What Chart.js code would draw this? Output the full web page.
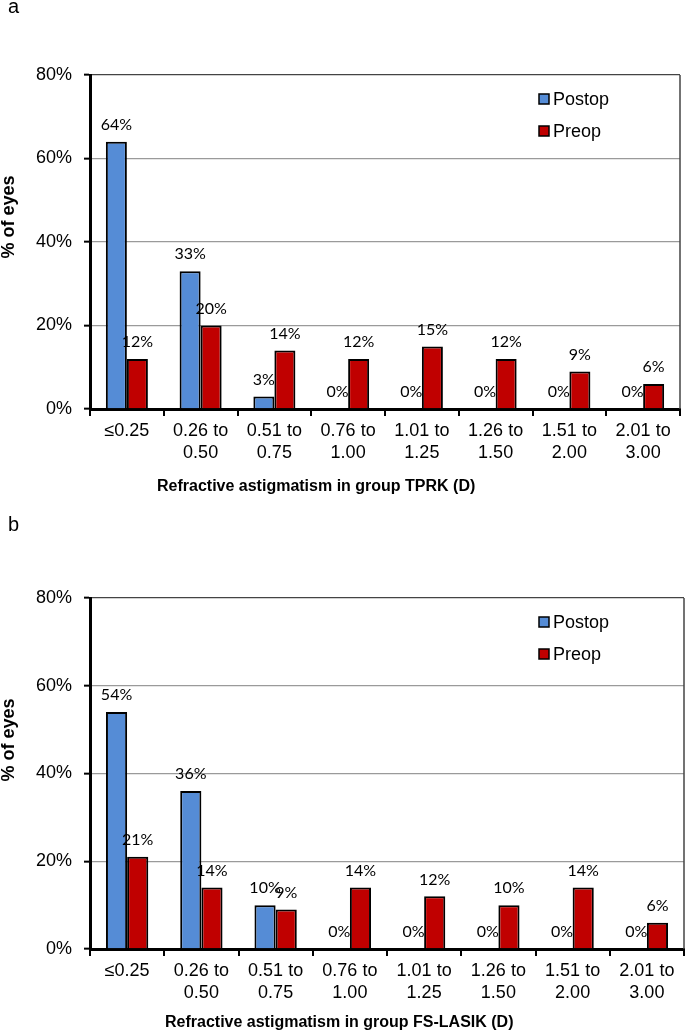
<!DOCTYPE html>
<html>
<head>
<meta charset="utf-8">
<script src="https://cdn.jsdelivr.net/npm/chart.js@4"></script>
<style>
  html,body{margin:0;padding:0;background:#fff;overflow:hidden;width:685px;height:1033px;}
  canvas{position:absolute;left:0;}
  #chartA{top:0;}
  #chartB{top:515px;}
</style>
</head>
<body>
<canvas id="chartA" width="685" height="515"></canvas>
<canvas id="chartB" width="685" height="518"></canvas>
<script>
// data
const categories = [['≤0.25'], ['0.26 to','0.50'], ['0.51 to','0.75'], ['0.76 to','1.00'],
  ['1.01 to','1.25'], ['1.26 to','1.50'], ['1.51 to','2.00'], ['2.01 to','3.00']];
const seriesNames = ['Postop', 'Preop'];
const tprkPostop = [64, 33, 3, 0, 0, 0, 0, 0];
const tprkPreop  = [12, 20, 14, 12, 15, 12, 9, 6];
const lasikPostop = [54, 36, 10, 0, 0, 0, 0, 0];
const lasikPreop  = [21, 14, 9, 14, 12, 10, 14, 6];
const yTicks = [0, 20, 40, 60, 80];

const BLUE = '#558cd6', RED = '#c00000';
Chart.defaults.font.family = '"Liberation Sans", Arial, sans-serif';
Chart.defaults.color = '#000';

// labels, legend, titles, right border
const extras = {
  id: 'extras',
  afterDatasetsDraw(chart, args, o){
    const c = chart.ctx, a = chart.chartArea;
    c.save();
    // right plot border
    c.strokeStyle = '#444'; c.lineWidth = 1.5;
    c.beginPath(); c.moveTo(a.right, a.top); c.lineTo(a.right, a.bottom); c.stroke();
    // value labels
    c.font = '16px Lato, "Open Sans", sans-serif';
    c.fillStyle = '#000'; c.textAlign = 'center'; c.textBaseline = 'middle';
    chart.data.datasets.forEach((ds, i) => {
      chart.getDatasetMeta(i).data.forEach((bar, j) => {
        c.fillText(ds.data[j] + '%', bar.x, bar.y - 17);
      });
    });
    // legend
    c.font = '18px "Liberation Sans", Arial, sans-serif';
    c.textAlign = 'left';
    chart.data.datasets.forEach((ds, i) => {
      const y = a.top + 24 + i * 32;
      c.fillStyle = ds.backgroundColor;
      c.fillRect(539, y - 5, 10, 10);
      c.strokeStyle = '#000'; c.lineWidth = 1.5;
      c.strokeRect(539, y - 5, 10, 10);
      c.fillStyle = '#000';
      c.fillText(ds.label, 553, y + 1);
    });
    // panel letter
    c.font = '20px "Liberation Sans", Arial, sans-serif';
    c.textBaseline = 'middle';
    c.fillText(o.panel, 8, o.panelY);
    // x title
    c.font = 'bold 16px "Liberation Sans", Arial, sans-serif';
    c.fillText(o.xTitle, o.xTitleX, o.xTitleY);
    // y title
    c.translate(9, a.top + 142);
    c.rotate(-Math.PI / 2);
    c.textAlign = 'center';
    c.font = 'bold 18px "Liberation Sans", Arial, sans-serif';
    c.fillText('% of eyes', 0, 0);
    c.restore();
  }
};

function makeChart(id, postop, preop, pad, xHeight, o){
  return new Chart(document.getElementById(id), {
    type: 'bar',
    data: {
      labels: categories,
      datasets: [
        {label: seriesNames[0], data: postop, backgroundColor: BLUE, borderColor: '#000', borderWidth: 2},
        {label: seriesNames[1], data: preop, backgroundColor: RED, borderColor: '#000', borderWidth: 2}
      ]
    },
    options: {
      responsive: false, animation: false, devicePixelRatio: 1,
      categoryPercentage: 0.57, barPercentage: 1.0,
      layout: {padding: pad},
      plugins: {legend: {display: false}, tooltip: {enabled: false}, extras: o},
      scales: {
        x: {
          afterFit: s => { s.height = xHeight; },
          grid: {drawOnChartArea: false, offset: true, tickLength: 7, color: '#000', lineWidth: 2},
          border: {color: '#000', width: 3},
          ticks: {font: {size: 18, lineHeight: 1.17}, padding: 5, maxRotation: 0, autoSkip: false}
        },
        y: {
          min: 0, max: 80,
          afterFit: s => { s.width = 90; },
          afterBuildTicks: s => { s.ticks = yTicks.map(v => ({value: v})); },
          grid: {color: c => c.tick && c.tick.value === 80 ? '#444' : '#9a9a9a', lineWidth: 1.3,
                 tickLength: 6, tickColor: '#000', tickWidth: 2},
          border: {color: '#000', width: 3},
          ticks: {font: {size: 18}, padding: 12, callback: v => v + '%'}
        }
      }
    },
    plugins: [extras]
  });
}

makeChart('chartA', tprkPostop, tprkPreop, {top: 75, right: 5, left: 0, bottom: 0}, 515 - 409,
  {panel: 'a', panelY: 7, xTitle: 'Refractive astigmatism in group TPRK (D)', xTitleX: 157, xTitleY: 487});
makeChart('chartB', lasikPostop, lasikPreop, {top: 83, right: 1, left: 0, bottom: 0}, 518 - 434,
  {panel: 'b', panelY: 10, xTitle: 'Refractive astigmatism in group FS-LASIK (D)', xTitleX: 165, xTitleY: 508});
</script>
</body>
</html>
